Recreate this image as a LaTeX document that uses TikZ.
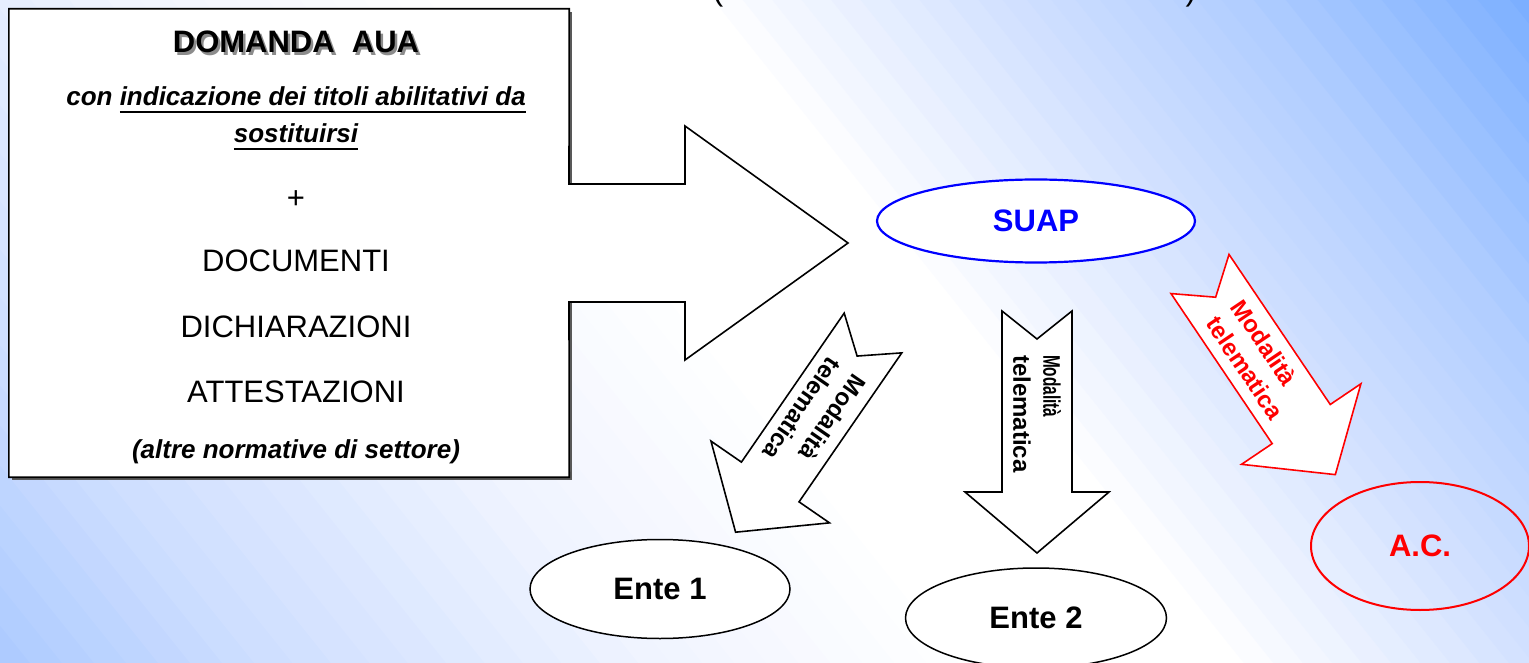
\documentclass[tikz,border=0pt]{standalone}
\usepackage{graphicx}
\usepackage{fontspec}
\setmainfont{Liberation Sans}
\usetikzlibrary{shapes.geometric}

% backdrop stops, from the lower-left corner to the upper-right one
\definecolor{bgA}{HTML}{A6C6FF}
\definecolor{bgB}{HTML}{CFDFFF}
\definecolor{bgC}{HTML}{F0F4FF}
\definecolor{bgD}{HTML}{D4E2FF}
\definecolor{bgE}{HTML}{B2CEFF}
\definecolor{bgF}{HTML}{76ACFF}
\definecolor{suapblue}{HTML}{0000FF}
\definecolor{acred}{HTML}{FF0000}

\tikzset{
  ovalnode/.style={ellipse, inner sep=0pt, line width=1.5pt,
    font=\fontsize{31}{36}\selectfont\bfseries},
  boxhead/.style={anchor=base, inner sep=0pt, font=\fontsize{31}{36}\selectfont\bfseries},
  boxline/.style={anchor=base, inner sep=0pt, font=\fontsize{31}{36}\selectfont},
  boxnote/.style={anchor=base, inner sep=0pt, font=\fontsize{26}{30}\selectfont\bfseries\itshape},
  outline/.style={line width=1.6pt, line join=miter},
  arrowbody/.style={fill=white, line width=1.6pt, line join=miter},
  arrowtext/.style={font=\fontsize{24}{30}\selectfont\bfseries, align=left,
    inner sep=0pt, anchor=west},
}

% thick underline placed under a box of text
\newcommand\ulinetext[1]{\setbox0\hbox{#1}\rlap{\rule[-7pt]{\wd0}{2pt}}\box0}

% notched block arrow: #1 label name, #2 tail centre, #3 direction, #4 colour, #5 label
\newcommand\notcharrow[5]{%
  \begin{scope}[shift={#2}, rotate=#3]
    \draw[arrowbody, draw=#4] (0,35) -- (28,0) -- (0,-35) -- (181,-35) -- (181,-72)
      -- (242,0) -- (181,72) -- (181,35) -- cycle;
    \node[arrowtext, text=#4, rotate=#3] (#1) at (44,0) {#5};
  \end{scope}}

\begin{document}
\begin{tikzpicture}[x=1pt, y=-1pt]
\useasboundingbox (0,0) rectangle (1529,663);

% diagonal blue-white-blue backdrop
\begin{scope}
  \clip (0,0) rectangle (1529,663);
  \fill[bgA] (0,0) rectangle (1529,663);
  \begin{scope}[shift={(700,100)}, rotate=38.66]
    \foreach \sa/\sb/\ca/\cb in {-950/-700/bgA/bgB, -700/-400/bgB/bgC,
        -400/-150/bgC/white, -150/50/white/white, 50/280/white/bgD,
        280/470/bgD/bgE, 470/720/bgE/bgF}{
      \foreach \i in {0,...,9}{
        \pgfmathsetmacro\sx{\sa+(\sb-\sa)*\i/10}
        \pgfmathtruncatemacro\pc{10*\i}
        \fill[\cb!\pc!\ca] (\sx,-1800) rectangle (1000,1800);
      }
    }
  \end{scope}
\end{scope}

% lower ends of the heading's brackets
\node[anchor=base, inner sep=0pt, font=\fontsize{32}{36}\selectfont] (lpar) at (718,1) {(};
\node[anchor=base, inner sep=0pt, font=\fontsize{32}{36}\selectfont] (rpar) at (1191,1) {)};

% request box joined to the large arrow
\node[minimum width=560, minimum height=468, inner sep=0pt] (domanda) at (289,243) {};
\fill[black!65] (12,12) rectangle (572,480);
\fill[white] (569,184) -- (domanda.north east) -- (domanda.north west) -- (domanda.south west)
  -- (domanda.south east) -- (569,302) -- (685,302) -- (685,360) -- (848,243)
  -- (685,126) -- (685,184) -- cycle;
\draw[outline] (569,184) -- (domanda.north east) -- (domanda.north west) -- (domanda.south west)
  -- (domanda.south east) -- (569,302) -- (685,302) -- (685,360) -- (848,243)
  -- (685,126) -- (685,184) -- cycle;

\node[boxhead, text=black!45] at (298.5,55.5) {DOMANDA~~AUA};
\node[boxhead] (title) at (296,53) {DOMANDA~~AUA};
\node[boxnote] (titles) at (296,106) {con \ulinetext{indicazione dei titoli abilitativi da}};
\node[boxnote] (subst) at (296,143) {\ulinetext{sostituirsi}};
\node[boxline] (plus) at (296,209) {+};
\node[boxline] (docs) at (296,272) {DOCUMENTI};
\node[boxline] (decl) at (296,337) {DICHIARAZIONI};
\node[boxline] (cert) at (296,402) {ATTESTAZIONI};
\node[boxnote] (other) at (296,458) {(altre normative di settore)};

% single desk
\node[ovalnode, draw=suapblue, fill=white, text=suapblue, line width=2.2pt,
  minimum width=318, minimum height=83] (suap) at (1036,221) {SUAP};

% telematic transmissions
\notcharrow{mod1}{(873,333)}{-124.6}{black}{Modalità\\telematica}
\notcharrow{mod2}{(1037,311)}{-90}{black}{\scalebox{0.64}[1]{Modalità}\\telematica}
\notcharrow{mod3}{(1200,274)}{-56}{acred}{Modalità\\telematica}

% receiving bodies
\node[ovalnode, draw=black, fill=white, minimum width=260, minimum height=99] (ente1) at (660,589) {Ente 1};
\node[ovalnode, draw=black, fill=white, minimum width=261, minimum height=100] (ente2) at (1036,618) {Ente 2};
\node[ovalnode, draw=acred, text=acred, line width=2pt,
  minimum width=218, minimum height=128] (ac) at (1420,546) {A.C.};
\end{tikzpicture}
\end{document}
